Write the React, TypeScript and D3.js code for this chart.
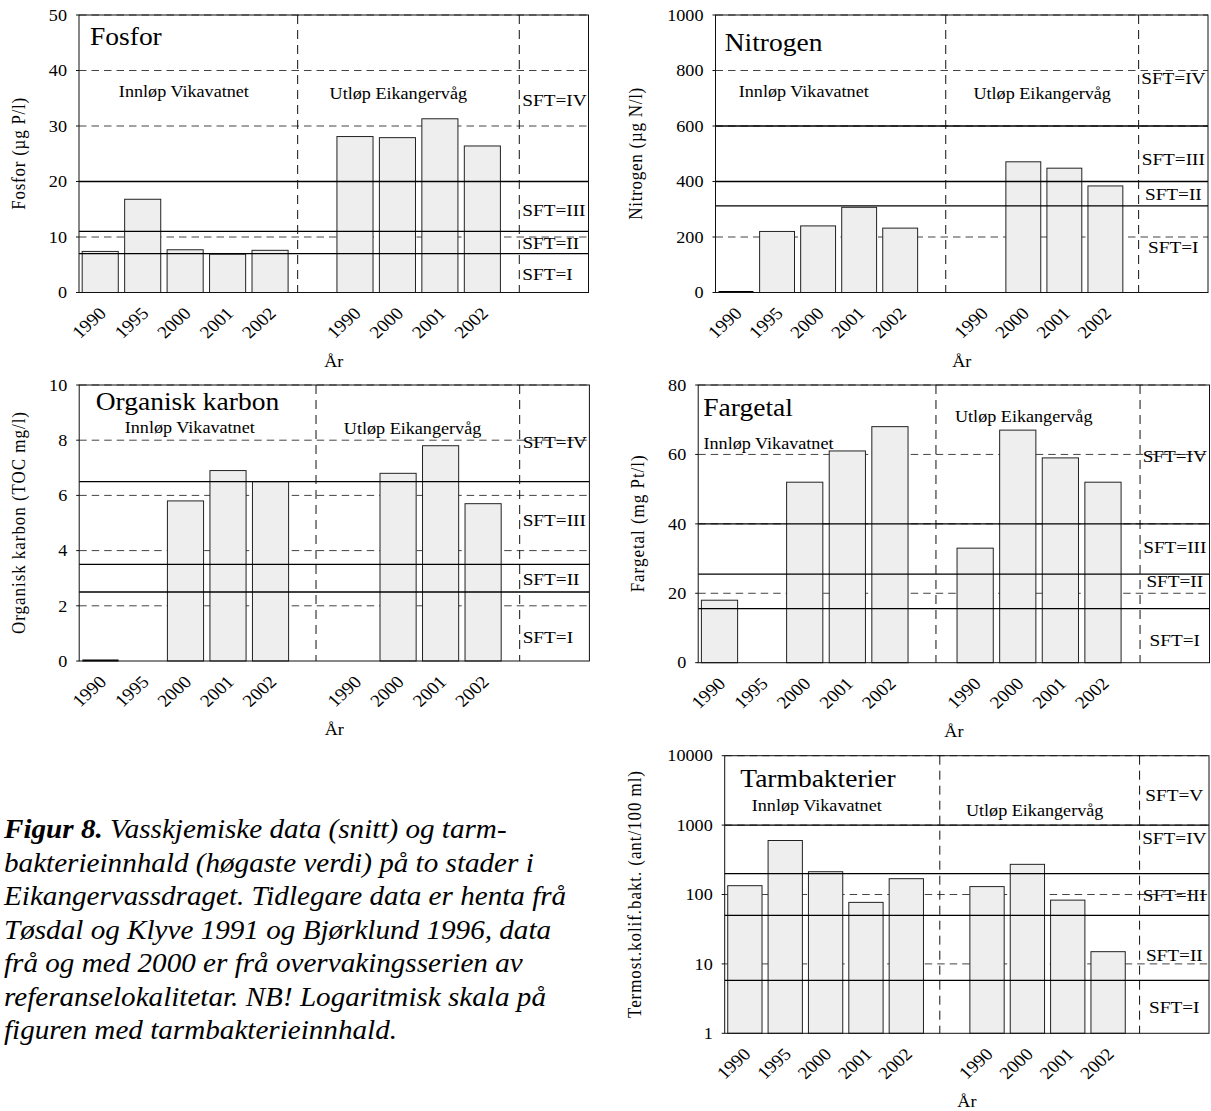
import React from "react";
import * as d3 from "d3";

// ---------- data ----------
const slotLabels = ["1990", "1995", "2000", "2001", "2002", "", "1990", "2000", "2001", "2002", "", ""];

const fosforValues = [7.4, 16.8, 7.7, 6.9, 7.6, null, 28.1, 27.9, 31.3, 26.4, null, null];
const nitrogenValues = [0, 220, 240, 307, 232, null, null, 471, 448, 384, null, null];
const organiskValues = [0, null, 5.8, 6.9, 6.5, null, null, 6.8, 7.8, 5.7, null, null];
const fargetalValues = [18, null, 52, 61, 68, null, 33, 67, 59, 52, null, null];
const tarmValues = [134, 600, 213, 77, 169, null, 130, 272, 83, 15, null, null];

const fosforTicks = [0, 10, 20, 30, 40, 50];
const nitrogenTicks = [0, 200, 400, 600, 800, 1000];
const organiskTicks = [0, 2, 4, 6, 8, 10];
const fargetalTicks = [0, 20, 40, 60, 80];
const tarmTicks = [1, 10, 100, 1000, 10000];

// SFT class boundaries
const fosforLimits = [7, 11, 20];
const nitrogenLimits = [312, 400, 600];
const organiskLimits = [2.5, 3.5, 6.5];
const fargetalLimits = [15.6, 25.5, 40];
const tarmLimits = [5.8, 50, 200, 1000];

const classNames = ["SFT=I", "SFT=II", "SFT=III", "SFT=IV", "SFT=V"];
// value at which each class label sits
const fosforClassAt = [3.3, 8.9, 14.9, 34.7];
const nitrogenClassAt = [165, 354, 480, 772];
const organiskClassAt = [0.88, 2.96, 5.13, 7.95];
const fargetalClassAt = [6.7, 23.5, 33.4, 59.5];
const tarmClassAt = [2.4, 13.7, 98, 646, 2716];

// station dividers, in category-slot units
const fosforDividers = [5.15, 10.37];
const nitrogenDividers = [5.61, 10.31];
const organiskDividers = [5.57, 10.36];
const fargetalDividers = [5.58, 10.37];
const tarmDividers = [5.33, 10.28];

const stationNames = ["Innløp Vikavatnet", "Utløp Eikangervåg"];
const xAxisTitle = "År";

const captionLines = [
  "Vasskjemiske data (snitt) og tarm-",
  "bakterieinnhald (høgaste verdi) på to stader i",
  "Eikangervassdraget. Tidlegare data er henta frå",
  "Tøsdal og Klyve 1991 og Bjørklund 1996, data",
  "frå og med 2000 er frå overvakingsserien av",
  "referanselokalitetar. NB! Logaritmisk skala på",
  "figuren med tarmbakterieinnhald.",
];
const captionLead = "Figur 8.";

// ---------- layout ----------
const SX = 1.1;
const FONT = "'Liberation Serif', 'Times New Roman', Times, serif";

type PanelCfg = {
  title: string;
  yTitle: string;
  yTitleLen: number;
  yTitleX: number;
  values: (number | null)[];
  ticks: number[];
  limits: number[];
  classAt: number[];
  dividers: number[];
  log?: boolean;
  x0: number; x1: number; y0: number; y1: number;
  titleDx: number; titleDy: number;
  stationSlots: number[]; stationDy: number[];
  classAlign: "start" | "middle";
};

const panels: PanelCfg[] = [
  {
    title: "Fosfor", yTitle: "Fosfor (µg P/l)", yTitleLen: 112, yTitleX: 25,
    values: fosforValues, ticks: fosforTicks, limits: fosforLimits, classAt: fosforClassAt, dividers: fosforDividers,
    x0: 79, x1: 588.5, y0: 15, y1: 292.5, titleDx: 11, titleDy: 29.5,
    stationSlots: [2.47, 7.52], stationDy: [81.7, 84.3], classAlign: "start",
  },
  {
    title: "Nitrogen", yTitle: "Nitrogen (µg N/l)", yTitleLen: 132, yTitleX: 642,
    values: nitrogenValues, ticks: nitrogenTicks, limits: nitrogenLimits, classAt: nitrogenClassAt, dividers: nitrogenDividers,
    x0: 715.5, x1: 1208, y0: 15, y1: 292.5, titleDx: 9.2, titleDy: 35.7,
    stationSlots: [2.15, 7.96], stationDy: [81.7, 84.3], classAlign: "middle",
  },
  {
    title: "Organisk karbon", yTitle: "Organisk karbon (TOC mg/l)", yTitleLen: 222, yTitleX: 25,
    values: organiskValues, ticks: organiskTicks, limits: organiskLimits, classAt: organiskClassAt, dividers: organiskDividers,
    x0: 79.2, x1: 589.4, y0: 385, y1: 661, titleDx: 16.5, titleDy: 25,
    stationSlots: [2.6, 7.84], stationDy: [48.3, 49], classAlign: "start",
  },
  {
    title: "Fargetal", yTitle: "Fargetal (mg Pt/l)", yTitleLen: 137, yTitleX: 644,
    values: fargetalValues, ticks: fargetalTicks, limits: fargetalLimits, classAt: fargetalClassAt, dividers: fargetalDividers,
    x0: 698.2, x1: 1209.5, y0: 385, y1: 662.7, titleDx: 5.1, titleDy: 30.7,
    stationSlots: [1.65, 7.64], stationDy: [63.5, 36.7], classAlign: "middle",
  },
  {
    title: "Tarmbakterier", yTitle: "Termost.kolif.bakt. (ant/100 ml)", yTitleLen: 247, yTitleX: 641,
    values: tarmValues, ticks: tarmTicks, limits: tarmLimits, classAt: tarmClassAt, dividers: tarmDividers, log: true,
    x0: 724.7, x1: 1209, y0: 755.7, y1: 1033.3, titleDx: 15.6, titleDy: 31,
    stationSlots: [2.28, 7.68], stationDy: [55.3, 60.3], classAlign: "middle",
  },
];

function T(props: {
  x: number; y: number; rot?: number; anchor?: string; size: number; children: any;
  weight?: string; italic?: boolean; dy?: string; textLength?: number;
}) {
  const { x, y, rot, anchor = "start", size, children, weight, italic, dy, textLength } = props;
  return (
    <text
      transform={`translate(${x},${y}) scale(${SX},1)` + (rot ? ` rotate(${rot})` : "")}
      textAnchor={anchor}
      fontSize={size}
      fontFamily={FONT}
      fontWeight={weight}
      fontStyle={italic ? "italic" : undefined}
      dy={dy}
      textLength={textLength}
      lengthAdjust={textLength ? "spacing" : undefined}
      fill="#000"
    >
      {children}
    </text>
  );
}

function Panel({ p }: { p: PanelCfg }) {
  const keys = slotLabels.map((_, i) => String(i));
  const x = d3.scaleBand<string>().domain(keys).range([p.x0, p.x1]).paddingInner(0.15).paddingOuter(0.075);
  const step = x.step();
  const bw = x.bandwidth();
  const dom = [p.ticks[0], p.ticks[p.ticks.length - 1]];
  const y: any = p.log
    ? d3.scaleLog().domain(dom).range([p.y1, p.y0])
    : d3.scaleLinear().domain(dom).range([p.y1, p.y0]);
  const base = dom[0];
  const slotX = (s: number) => p.x0 + s * step;
  const divX = p.dividers.map(slotX);
  const classX = p.classAlign === "start" ? divX[1] + 3 : (divX[1] + p.x1) / 2;

  return (
    <g>
      {/* dashed gridlines */}
      {p.ticks.slice(1).map((t) => (
        <line key={"g" + t} x1={p.x0} x2={p.x1} y1={y(t)} y2={y(t)} stroke="#444" strokeWidth={1} strokeDasharray="7.5,5" />
      ))}
      {/* bars */}
      {p.values.map((v, i) => {
        if (v === null) return null;
        const xx = x(keys[i]) as number;
        if (v === base || v === 0) {
          return <line key={"b" + i} x1={xx} x2={xx + bw} y1={y(base) - 0.5} y2={y(base) - 0.5} stroke="#000" strokeWidth={2.2} />;
        }
        return (
          <rect key={"b" + i} x={xx} y={y(v)} width={bw} height={y(base) - y(v)} fill="#eeeeee" stroke="#222" strokeWidth={1} />
        );
      })}
      {/* class limit lines */}
      {p.limits.map((l) => (
        <line key={"l" + l} x1={p.x0} x2={p.x1} y1={y(l)} y2={y(l)} stroke="#000" strokeWidth={1.3} />
      ))}
      {/* dividers */}
      {divX.map((dx, i) => (
        <line key={"d" + i} x1={dx} x2={dx} y1={p.y0} y2={p.y1} stroke="#111" strokeWidth={1} strokeDasharray="9,6" />
      ))}
      {/* frame */}
      <rect x={p.x0} y={p.y0} width={p.x1 - p.x0} height={p.y1 - p.y0} fill="none" stroke="#111" strokeWidth={1} />
      {/* y ticks */}
      {p.ticks.map((t) => (
        <g key={"t" + t}>
          <line x1={p.x0 - 3} x2={p.x0} y1={y(t)} y2={y(t)} stroke="#111" />
          <T x={p.x0 - 12} y={y(t)} anchor="end" size={16.5} dy="0.35em">{String(t)}</T>
        </g>
      ))}
      {/* x tick labels */}
      {slotLabels.map((lab, i) =>
        lab ? (
          <T key={"x" + i} x={(x(keys[i]) as number) + bw / 2 + 7} y={p.y1 + 22} rot={-45} anchor="end" size={17.5}>
            {lab}
          </T>
        ) : null
      )}
      <T x={(p.x0 + p.x1) / 2} y={p.y1 + 74} anchor="middle" size={16.5}>{xAxisTitle}</T>
      {/* y title */}
      <T x={p.yTitleX} y={(p.y0 + p.y1) / 2} rot={-90} anchor="middle" size={17} textLength={p.yTitleLen}>
        {p.yTitle}
      </T>
      {/* title */}
      <T x={p.x0 + p.titleDx} y={p.y0 + p.titleDy} size={25}>{p.title}</T>
      {/* stations */}
      {stationNames.map((s, i) => (
        <T key={"s" + i} x={slotX(p.stationSlots[i])} y={p.y0 + p.stationDy[i]} anchor="middle" size={16.5}>
          {s}
        </T>
      ))}
      {/* class labels */}
      {p.classAt.map((v, i) => (
        <T key={"c" + i} x={classX} y={y(v)} anchor={p.classAlign} size={17.5} dy="0.35em">
          {classNames[i]}
        </T>
      ))}
    </g>
  );
}

export default function App() {
  const capY0 = 838.3;
  const capStep = 33.45;
  return (
    <svg width={1211} height={1111} style={{ position: "absolute", left: 0, top: 0, background: "#fff" }}>
      <rect x={0} y={0} width={1211} height={1111} fill="#fff" />
      {panels.map((p, i) => (
        <Panel key={i} p={p} />
      ))}
      {captionLines.map((line, i) => (
        <text
          key={"cap" + i}
          transform={`translate(4,${capY0 + i * capStep}) scale(${SX},1)`}
          fontFamily={FONT}
          fontSize={26.5}
          fontStyle="italic"
          fill="#000"
        >
          {i === 0 ? (
            <>
              <tspan fontWeight="bold">{captionLead}</tspan>
              <tspan>{" " + line}</tspan>
            </>
          ) : (
            line
          )}
        </text>
      ))}
    </svg>
  );
}
